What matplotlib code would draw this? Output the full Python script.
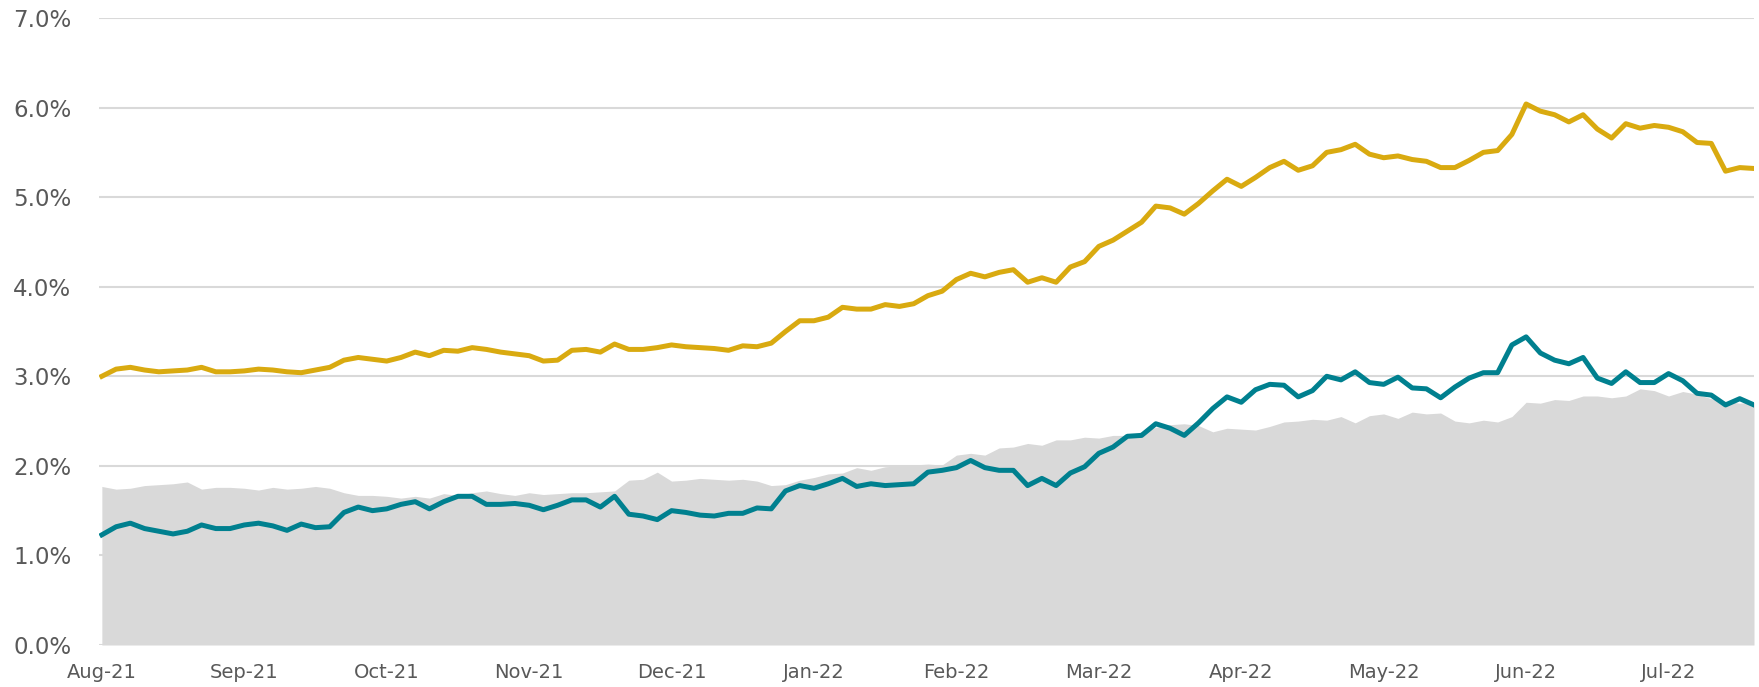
import numpy as np
import matplotlib
matplotlib.use("Agg")
import matplotlib.pyplot as plt
from matplotlib.ticker import FuncFormatter

# month labels, one per month start
months = ['Aug-21', 'Sep-21', 'Oct-21', 'Nov-21', 'Dec-21', 'Jan-22',
          'Feb-22', 'Mar-22', 'Apr-22', 'May-22', 'Jun-22', 'Jul-22']

# values read every 0.1 month from Aug-21 (percent)
gold = [3.00, 3.08, 3.10, 3.07, 3.05, 3.06, 3.07, 3.10, 3.05, 3.05,
        3.06, 3.08, 3.07, 3.05, 3.04, 3.07, 3.10, 3.18, 3.21, 3.19,
        3.17, 3.21, 3.27, 3.23, 3.29, 3.28, 3.32, 3.30, 3.27, 3.25,
        3.23, 3.17, 3.18, 3.29, 3.30, 3.27, 3.36, 3.30, 3.30, 3.32,
        3.35, 3.33, 3.32, 3.31, 3.29, 3.34, 3.33, 3.37, 3.50, 3.62,
        3.62, 3.66, 3.77, 3.75, 3.75, 3.80, 3.78, 3.81, 3.90, 3.95,
        4.08, 4.15, 4.11, 4.16, 4.19, 4.05, 4.10, 4.05, 4.22, 4.28,
        4.45, 4.52, 4.62, 4.72, 4.90, 4.88, 4.81, 4.93, 5.07, 5.20,
        5.12, 5.22, 5.33, 5.40, 5.30, 5.35, 5.50, 5.53, 5.59, 5.48,
        5.44, 5.46, 5.42, 5.40, 5.33, 5.33, 5.41, 5.50, 5.52, 5.70,
        6.04, 5.96, 5.92, 5.84, 5.92, 5.76, 5.66, 5.82, 5.77, 5.80,
        5.78, 5.73, 5.61, 5.60, 5.29, 5.33, 5.32]

teal = [1.23, 1.32, 1.36, 1.30, 1.27, 1.24, 1.27, 1.34, 1.30, 1.30,
        1.34, 1.36, 1.33, 1.28, 1.35, 1.31, 1.32, 1.48, 1.54, 1.50,
        1.52, 1.57, 1.60, 1.52, 1.60, 1.66, 1.66, 1.57, 1.57, 1.58,
        1.56, 1.51, 1.56, 1.62, 1.62, 1.54, 1.66, 1.46, 1.44, 1.40,
        1.50, 1.48, 1.45, 1.44, 1.47, 1.47, 1.53, 1.52, 1.72, 1.78,
        1.75, 1.80, 1.86, 1.77, 1.80, 1.78, 1.79, 1.80, 1.93, 1.95,
        1.98, 2.06, 1.98, 1.95, 1.95, 1.78, 1.86, 1.78, 1.92, 1.99,
        2.14, 2.21, 2.33, 2.34, 2.47, 2.42, 2.34, 2.48, 2.64, 2.77,
        2.71, 2.85, 2.91, 2.90, 2.77, 2.84, 3.00, 2.96, 3.05, 2.93,
        2.91, 2.99, 2.87, 2.86, 2.76, 2.88, 2.98, 3.04, 3.04, 3.35,
        3.44, 3.26, 3.18, 3.14, 3.21, 2.98, 2.92, 3.05, 2.93, 2.93,
        3.03, 2.95, 2.81, 2.79, 2.68, 2.75, 2.68]

grey = [1.77, 1.74, 1.75, 1.78, 1.79, 1.80, 1.82, 1.74, 1.76, 1.76,
        1.75, 1.73, 1.76, 1.74, 1.75, 1.77, 1.75, 1.70, 1.67, 1.67,
        1.66, 1.64, 1.66, 1.64, 1.69, 1.67, 1.70, 1.72, 1.69, 1.67,
        1.70, 1.68, 1.69, 1.70, 1.70, 1.71, 1.72, 1.84, 1.85, 1.93,
        1.83, 1.84, 1.86, 1.85, 1.84, 1.85, 1.83, 1.78, 1.79, 1.84,
        1.87, 1.91, 1.92, 1.98, 1.95, 1.99, 2.00, 2.01, 2.02, 2.01,
        2.12, 2.14, 2.12, 2.20, 2.21, 2.25, 2.23, 2.29, 2.29, 2.32,
        2.31, 2.34, 2.34, 2.38, 2.43, 2.46, 2.47, 2.45, 2.38, 2.42,
        2.41, 2.40, 2.44, 2.49, 2.50, 2.52, 2.51, 2.55, 2.48, 2.56,
        2.58, 2.53, 2.60, 2.58, 2.59, 2.50, 2.48, 2.51, 2.49, 2.55,
        2.71, 2.70, 2.74, 2.73, 2.78, 2.78, 2.76, 2.78, 2.86, 2.84,
        2.78, 2.83, 2.80, 2.75, 2.72, 2.70, 2.71]

x = np.arange(len(gold)) * 0.1

fig = plt.figure(figsize=(17.59, 6.87), dpi=100)
ax = fig.add_axes([99/1759, 1 - 645/687, (1754-99)/1759, (645-18)/687])

ax.fill_between(x, 0, grey, color='#D9D9D9', lw=0, zorder=2)
ax.plot(x, gold, color='#D9AA10', lw=3.6, zorder=3, solid_joinstyle='round')
ax.plot(x, teal, color='#00808F', lw=3.6, zorder=4, solid_joinstyle='round')

ax.set_xlim(-0.02, 11.6)
ax.set_ylim(0, 7)
ax.set_yticks(np.arange(0, 8, 1))
ax.yaxis.set_major_formatter(FuncFormatter(lambda v, p: f'{v:.1f}%'))
ax.set_xticks(np.arange(len(months)))
ax.set_xticklabels(months)

ax.grid(axis='y', color='#D9D9D9', lw=1.5, zorder=0)
ax.set_axisbelow(True)
for s in ax.spines.values():
    s.set_visible(False)
ax.tick_params(axis='both', length=0, colors='#595959')
ax.tick_params(axis='y', labelsize=16.5, pad=20)
ax.tick_params(axis='x', labelsize=14, pad=13)

fig.savefig('out.png', dpi=100)
